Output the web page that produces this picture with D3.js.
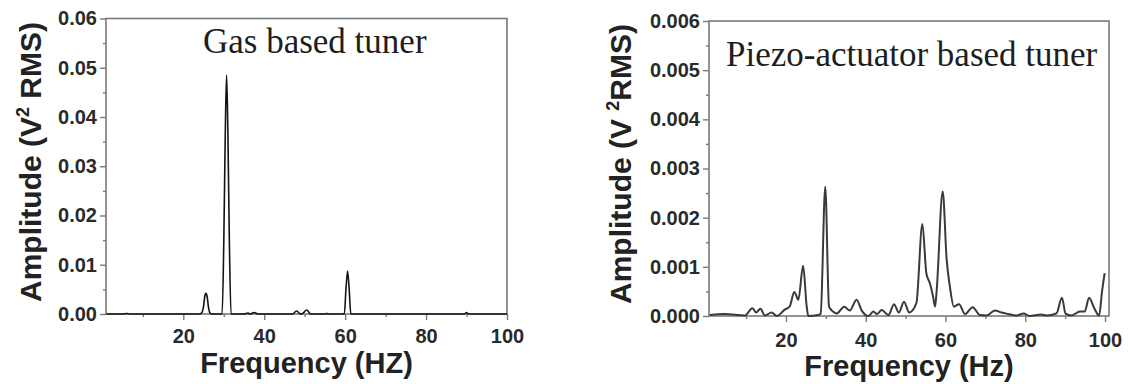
<!DOCTYPE html>
<html>
<head>
<meta charset="utf-8">
<script src="https://cdn.jsdelivr.net/npm/d3@7"></script>
<style>
  html, body { margin: 0; padding: 0; background: #fff; }
  svg { display: block; }
  .tick text { font-family: "Liberation Sans", Arial, sans-serif; font-weight: bold; font-size: 20px; fill: #2a2a2a; }
</style>
</head>
<body>
<svg id="chart" width="1128" height="384"></svg>
<script>
// Vibration spectra of two tuner types

// Gas based tuner: frequency (Hz) and amplitude (V^2 RMS)
const gasFreq = [1, 5, 6, 7, 20, 24, 24.5, 25, 25.3, 25.6, 25.9, 26.2, 26.6, 27,
  29.6, 30.0, 30.4, 30.7, 31.0, 31.4, 31.8, 35, 36, 36.5, 37.5, 38.5,
  47, 48, 49, 49.5, 50.5, 51.5, 55, 55.5, 56, 59.8, 60.2, 60.6, 61.0, 61.4,
  89.5, 90, 90.5, 100];
const gasAmp = [0, 0, 0.0001, 0, 0, 0, 0.0002, 0.0015, 0.0035, 0.0042, 0.0035, 0.0015, 0.0002, 0,
  0, 0.014, 0.038, 0.0485, 0.038, 0.014, 0, 0, 0.0002, 0, 0.0003, 0,
  0, 0.0006, 0, 0.0001, 0.0008, 0, 0, 0.0001, 0, 0, 0.005, 0.0087, 0.005, 0,
  0, 0.0003, 0, 0];

// Piezo-actuator based tuner: frequency (Hz) and amplitude (V^2 RMS)
const piezoFreq = [0.9, 4.7, 9.7, 11.6, 12.5, 13.6, 14.7, 16.4, 17.7, 19.7, 20.9, 22.1, 23.1, 24.3,
  25.2, 25.6, 28.1, 28.7, 29.85, 30.8, 31.8, 32.7, 34.6, 36.0, 37.7, 39.0, 40.7, 41.9,
  42.8, 44.0, 45.7, 47.1, 48.3, 49.6, 50.9, 52.7, 54.2, 55.2, 56.1, 56.9, 57.4, 57.8,
  59.3, 60.3, 61.1, 62.1, 63.4, 64.9, 66.8, 68.6, 70.3, 72.4, 74.0, 75.7, 77.8, 79.6,
  81.1, 84.0, 85.3, 87.8, 89.2, 90.1, 91.6, 93.7, 94.9, 96.0, 97.3, 98.5, 99.3, 99.9];
const piezoAmp = [0.00002, 0.00004, 0.00001, 0.00016, 0.00007, 0.00015, 0.00001, 0.00007, 0, 0.00013, 0.00019, 0.00049, 0.00033, 0.00102,
  0.00019, 0, 0.00002, 0.00005, 0.00263, 0.00019, 0.00009, 0.00005, 0.00019, 0.00011, 0.00033, 0.00011, 0, 0.00009,
  0.00004, 0.00012, 0.00002, 0.00024, 0.00007, 0.00029, 0.00007, 0.00026, 0.00187, 0.00087, 0.00066, 0.00039, 0.00019, 0.00053,
  0.00253, 0.00114, 0.0006, 0.00019, 0.00024, 0.00004, 0.00018, 0.00002, 0.00001, 0.00011, 0.00007, 0.00004, 0.00001, 0.00005,
  0, 0.00003, 0.00001, 0.00005, 0.00037, 0.00005, 0.00001, 0.00009, 0.00009, 0.00037, 0.00016, 0.00001, 0.00053, 0.00087];

// Axis ticks
const freqTicks = [20, 40, 60, 80, 100];
const freqMinor = [10, 30, 50, 70, 90];
const gasTicks = [0, 0.01, 0.02, 0.03, 0.04, 0.05, 0.06];
const gasMinor = [0.005, 0.015, 0.025, 0.035, 0.045, 0.055];
const piezoTicks = [0, 0.001, 0.002, 0.003, 0.004, 0.005, 0.006];
const piezoMinor = [0.0005, 0.0015, 0.0025, 0.0035, 0.0045, 0.0055];

const svg = d3.select("#chart");

function panel(cfg) {
  const x = d3.scaleLinear().domain(cfg.xDomain).range([cfg.left, cfg.right]);
  const y = d3.scaleLinear().domain([0, cfg.yMax]).range([cfg.bottom, cfg.top]);
  const g = svg.append("g");

  // frame
  g.append("rect")
    .attr("x", cfg.left).attr("y", cfg.top)
    .attr("width", cfg.right - cfg.left).attr("height", cfg.bottom - cfg.top)
    .attr("fill", "none").attr("stroke", "#7a7a7a").attr("stroke-width", 1.6);

  // minor ticks
  g.append("g").attr("transform", `translate(0,${cfg.bottom})`)
    .call(d3.axisBottom(x).tickValues(freqMinor).tickSize(3).tickFormat("").tickSizeOuter(0))
    .call(s => s.select(".domain").remove())
    .call(s => s.selectAll("line").attr("stroke", "#7a7a7a").attr("stroke-width", 1.4));
  g.append("g").attr("transform", `translate(${cfg.left},0)`)
    .call(d3.axisLeft(y).tickValues(cfg.minor).tickSize(3).tickFormat("").tickSizeOuter(0))
    .call(s => s.select(".domain").remove())
    .call(s => s.selectAll("line").attr("stroke", "#7a7a7a").attr("stroke-width", 1.4));

  // major ticks
  g.append("g").attr("transform", `translate(0,${cfg.bottom})`)
    .call(d3.axisBottom(x).tickValues(freqTicks).tickSize(6).tickPadding(cfg.xPad).tickSizeOuter(0).tickFormat(d3.format("d")))
    .call(s => s.select(".domain").remove())
    .call(s => s.selectAll("line").attr("stroke", "#7a7a7a").attr("stroke-width", 1.4));
  g.append("g").attr("transform", `translate(${cfg.left},0)`)
    .call(d3.axisLeft(y).tickValues(cfg.ticks).tickSize(6).tickPadding(3).tickSizeOuter(0).tickFormat(d3.format(cfg.fmt)))
    .call(s => s.select(".domain").remove())
    .call(s => s.selectAll("line").attr("stroke", "#7a7a7a").attr("stroke-width", 1.4));

  // spectrum
  const pts = cfg.freq.map((f, i) => [f, cfg.amp[i]]);
  const line = d3.line().x(d => x(d[0])).y(d => y(d[1])).curve(d3.curveMonotoneX);
  g.append("path").datum(pts)
    .attr("d", line)
    .attr("fill", "none").attr("stroke", cfg.color).attr("stroke-width", cfg.lw)
    .attr("stroke-linejoin", "round");

  // in-plot label
  g.append("text")
    .attr("x", cfg.labelX).attr("y", cfg.labelY)
    .attr("font-family", "'Liberation Serif', 'Times New Roman', serif")
    .attr("font-size", 35).attr("fill", "#1e1e1e")
    .text(cfg.label);

  // x title
  g.append("text")
    .attr("x", (cfg.left + cfg.right) / 2).attr("y", cfg.xTitleY)
    .attr("text-anchor", "middle")
    .attr("font-family", "'Liberation Sans', Arial, sans-serif")
    .attr("font-weight", "bold").attr("font-size", 29).attr("fill", "#222")
    .text(cfg.xTitle);

  // y title
  const yt = g.append("text")
    .attr("transform", `translate(${cfg.yTitleX},${cfg.yTitleY}) rotate(-90)`)
    .attr("text-anchor", "middle")
    .attr("font-family", "'Liberation Sans', Arial, sans-serif")
    .attr("font-weight", "bold").attr("font-size", 30).attr("fill", "#222");
  cfg.yTitle.forEach(part => {
    const t = yt.append("tspan").text(part.t);
    if (part.sup) t.attr("font-size", 18).attr("dy", -12);
    if (part.down) t.attr("dy", 12);
  });
}

panel({
  left: 106, right: 507, top: 18.5, bottom: 314,
  xDomain: [0.9, 100], yMax: 0.06,
  ticks: gasTicks, minor: gasMinor, fmt: ".2f",
  freq: gasFreq, amp: gasAmp, color: "#141414", lw: 1.6,
  label: "Gas based tuner", labelX: 203, labelY: 53,
  xTitle: "Frequency (HZ)", xTitleY: 373, xPad: 9,
  yTitle: [{t: "Amplitude (V"}, {t: "2", sup: true}, {t: " RMS)", down: true}],
  yTitleX: 41, yTitleY: 162
});

panel({
  left: 709, right: 1109, top: 21, bottom: 316,
  xDomain: [0.7, 101], yMax: 0.006,
  ticks: piezoTicks, minor: piezoMinor, fmt: ".3f",
  freq: piezoFreq, amp: piezoAmp, color: "#3a3a3a", lw: 2,
  label: "Piezo-actuator based tuner", labelX: 726, labelY: 66,
  xTitle: "Frequency (Hz)", xTitleY: 376, xPad: 11,
  yTitle: [{t: "Amplitude (V "}, {t: "2", sup: true}, {t: "RMS)", down: true}],
  yTitleX: 631, yTitleY: 164
});
</script>
</body>
</html>
